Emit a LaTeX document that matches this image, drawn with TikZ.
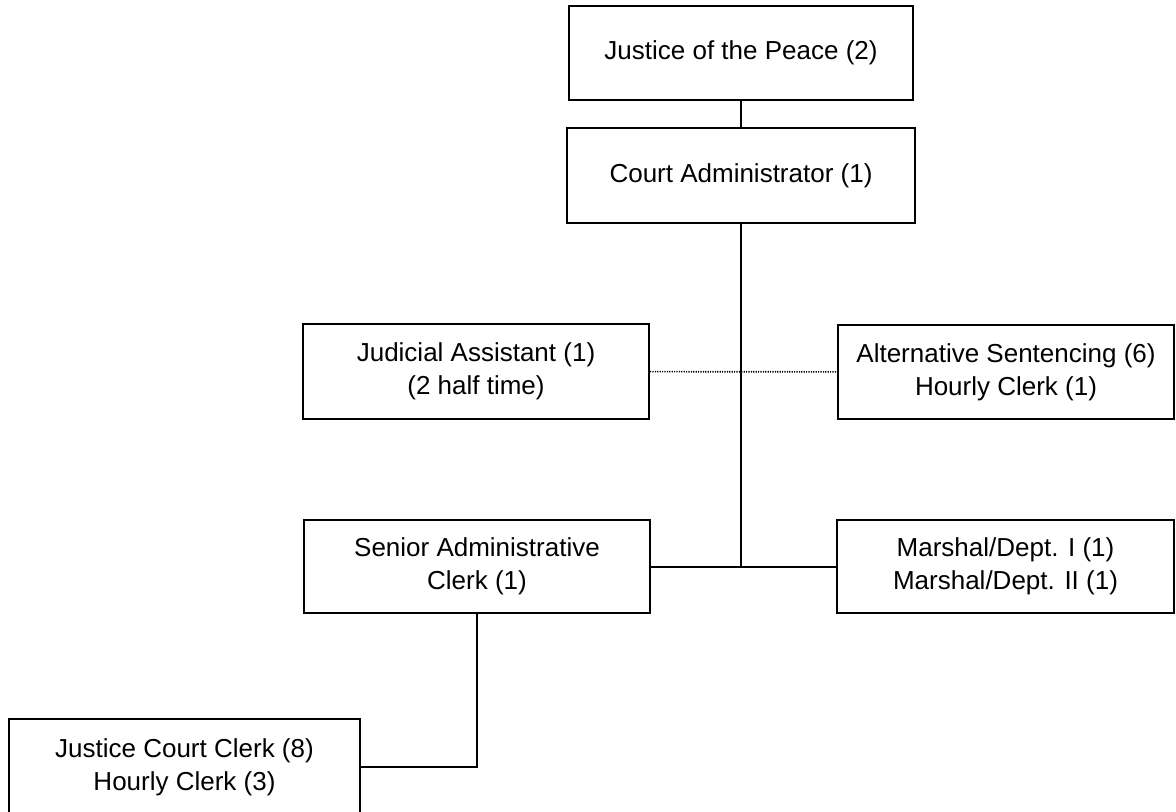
\documentclass[tikz,border=0pt]{standalone}
\usepackage{fontspec}
\setmainfont{Liberation Sans}
\usepackage{xcolor,tikz}

\begin{document}
\begin{tikzpicture}[x=.5pt,y=-.5pt,
  post/.style={draw,line width=1pt,align=center,inner sep=0pt,
    font=\fontsize{13}{16.5}\selectfont},
  link/.style={line width=1pt}]
\useasboundingbox (0,0) rectangle (1176,812);
\node[post,minimum width=172pt,minimum height=47pt] (peace) at (741,53) {Justice of the Peace (2)};
\node[post,minimum width=174pt,minimum height=47.5pt] (admin) at (741,175.5) {Court Administrator (1)};
\node[post,minimum width=173pt,minimum height=47.5pt] (assist) at (476,371.5) {Judicial Assistant (1)\\(2 half time)};
\node[post,minimum width=168pt,minimum height=47pt] (altsent) at (1006,372) {Alternative Sentencing (6)\\Hourly Clerk (1)};
\node[post,minimum width=173pt,minimum height=46.5pt] (senior) at (477,566.5) {Senior Administrative\\Clerk (1)};
\node[post,minimum width=168.5pt,minimum height=46.5pt] (marshal) at (1005.5,566.5) {Marshal/Dept. I (1)\\Marshal/Dept. II (1)};
\node[post,minimum width=175.5pt,minimum height=48pt] (clerks) at (184.5,767) {Justice Court Clerk (8)\\Hourly Clerk (3)};
\coordinate (hub) at (741,566.5);
\draw[link] (peace) -- (admin);
\draw[link] (admin) -- (hub);
\draw[link] (senior) -- (marshal);
\draw[dash pattern=on .6pt off .6pt,line width=.8pt] (assist) -- (altsent);
\draw[link] (senior.south) -- (senior.south |- clerks.east) -- (clerks);
\end{tikzpicture}
\end{document}
